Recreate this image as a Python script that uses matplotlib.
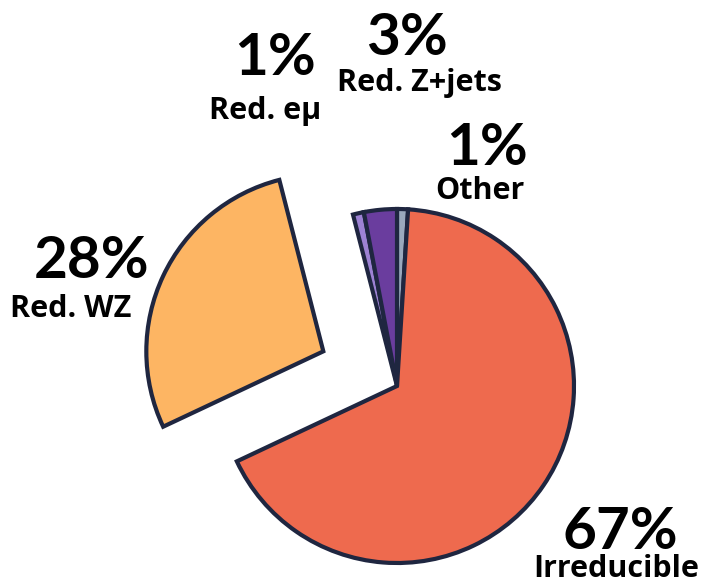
import matplotlib
matplotlib.use("Agg")
import matplotlib.pyplot as plt

# Background composition (percent), clockwise from 12 o'clock
labels = ["Other", "Irreducible", "Red. WZ", "Red. eμ", "Red. Z+jets"]
values = [1, 67, 28, 1, 3]
colors = ["#9aa8bd", "#ee6a4e", "#fdb563", "#9d82d4", "#6a3d9e"]
explode = [0, 0, 0.46, 0, 0]

# Label placement in pixels: (percentage centre x, baseline), (name centre x, baseline)
pct_pos = {
    "Other": (487, 165),
    "Irreducible": (620, 549),
    "Red. WZ": (92, 278),
    "Red. eμ": (275, 75),
    "Red. Z+jets": (407, 55),
}
name_pos = {
    "Other": (480, 199),
    "Irreducible": (616, 577),
    "Red. WZ": (71, 317),
    "Red. eμ": (265, 119),
    "Red. Z+jets": (419, 91),
}

W, H = 703, 585
cx, cy, R = 397, 386, 177

fig = plt.figure(figsize=(W / 100, H / 100), dpi=100)
ax = fig.add_axes([0, 0, 1, 1])
ax.pie(values, colors=colors, explode=explode, startangle=90, counterclock=False,
       radius=1, wedgeprops=dict(edgecolor="#1f2640", linewidth=3, joinstyle="miter"))
ax.set_xlim(-cx / R, (W - cx) / R)
ax.set_ylim(-(H - cy) / R, cy / R)
ax.set_aspect("equal")
ax.axis("off")

for lab, v in zip(labels, values):
    px, pb = pct_pos[lab]
    nx, nb = name_pos[lab]
    fig.text(px / W, 1 - pb / H, f"{v}%", ha="center", va="baseline",
             fontsize=42, fontweight="bold", family="Lato", color="black")
    fig.text(nx / W, 1 - nb / H, lab, ha="center", va="baseline",
             fontsize=22, fontweight="bold", family="Open Sans", color="black")

fig.savefig("out.png", dpi=100, facecolor="white")
